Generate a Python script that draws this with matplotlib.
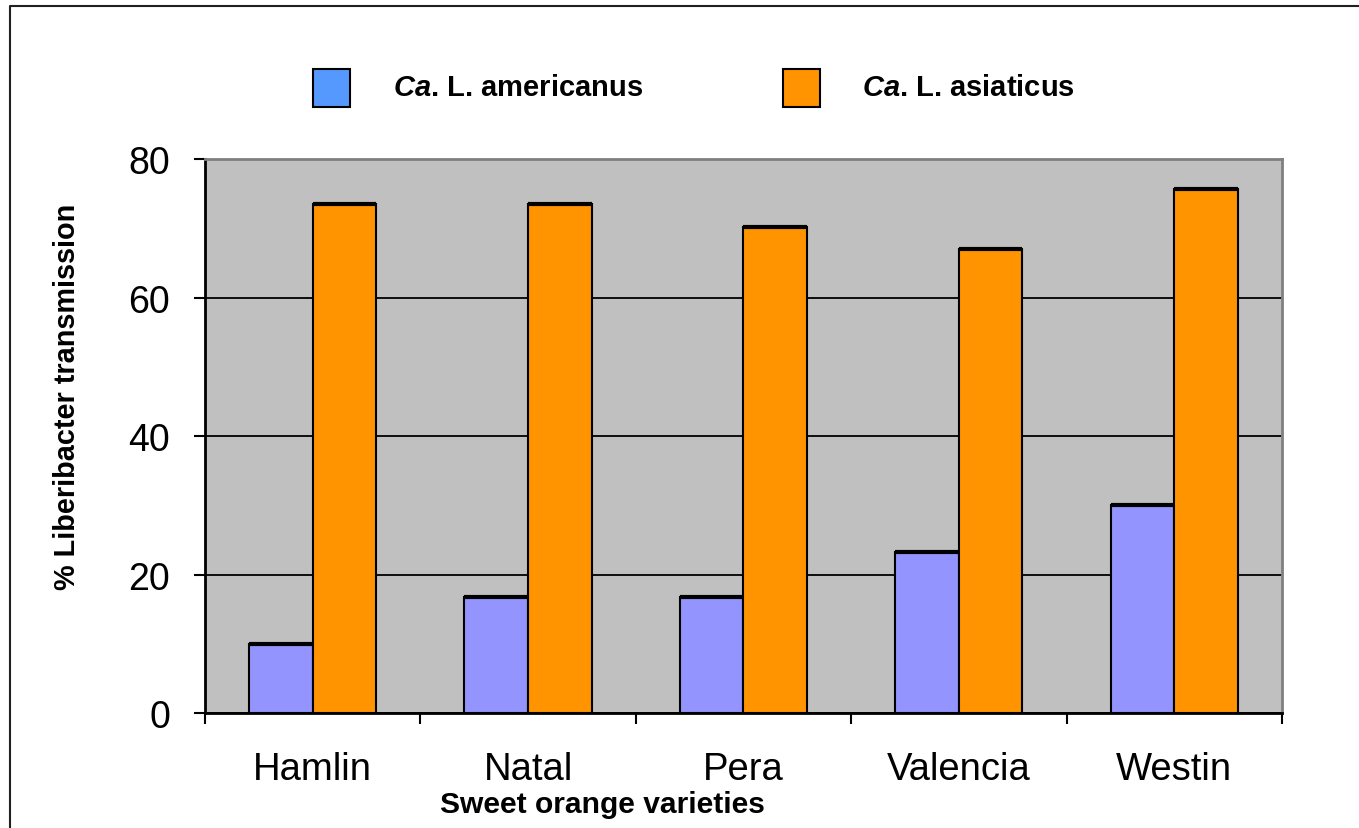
import numpy as np
import matplotlib
matplotlib.use("Agg")
from matplotlib import pyplot as plt
from matplotlib.patches import Rectangle
from matplotlib.lines import Line2D

varieties = ["Hamlin", "Natal", "Pera", "Valencia", "Westin"]
americanus = [10.0, 16.7, 16.7, 23.3, 30.0]
asiaticus = [73.5, 73.5, 70.2, 67.0, 75.7]
yticks = [0, 20, 40, 60, 80]

BAR_AM = "#9494FF"
BAR_AS = "#FF9400"
KEY_AM = "#5599FF"

plt.rcParams['font.family'] = ['Liberation Sans', 'DejaVu Sans']
plt.rcParams['mathtext.fontset'] = 'custom'
plt.rcParams['mathtext.bfit'] = 'Liberation Sans:italic:bold'
plt.rcParams['mathtext.rm'] = 'Liberation Sans:bold'

fig = plt.figure(figsize=(13.59, 8.29), dpi=100)
ax = fig.add_axes([0.1508, 0.1387, 0.7925, 0.6683])
ax.set_facecolor("#C0C0C0")

x = np.arange(len(varieties))
w = 0.295
ax.bar(x - w / 2, americanus, w, color=BAR_AM, edgecolor="black", linewidth=1.5, zorder=3)
ax.bar(x + w / 2, asiaticus, w, color=BAR_AS, edgecolor="black", linewidth=1.5, zorder=3)
# heavier line along the bar tops
ax.hlines(americanus, x - w, x, colors="black", linewidth=3, zorder=4)
ax.hlines(asiaticus, x, x + w, colors="black", linewidth=3, zorder=4)

ax.set_xlim(-0.5, len(varieties) - 0.5)
ax.set_ylim(0, 80)
ax.set_yticks(yticks)
ax.yaxis.grid(True, color="black", linewidth=1.3, zorder=0)
ax.set_axisbelow(True)

ax.set_xticks(x)
ax.set_xticklabels(varieties, fontsize=27.5)
ax.tick_params(axis="x", which="major", length=0, pad=27)
ax.set_xticks(np.arange(len(varieties) + 1) - 0.5, minor=True)
ax.tick_params(axis="x", which="minor", length=8, width=1.5, direction="out")
ax.tick_params(axis="y", length=8, width=1.5, pad=17, labelsize=27)

for side in ["left", "bottom"]:
    ax.spines[side].set_color("black")
    ax.spines[side].set_linewidth(2)
for side in ["top", "right"]:
    ax.spines[side].set_color("#808080")
    ax.spines[side].set_linewidth(2)

fig.text(67 / 1359, 1 - 397 / 829, "% Liberibacter transmission", rotation=90,
         ha="center", va="center", fontsize=20.8, fontweight="bold")
fig.text(602 / 1359, 1 - 805 / 829, "Sweet orange varieties",
         ha="center", va="center", fontsize=21.6, fontweight="bold")

# legend keys
fig.patches.append(Rectangle((313 / 1359, 1 - 108 / 829), 37 / 1359, 38 / 829,
                             transform=fig.transFigure, facecolor=KEY_AM,
                             edgecolor="black", linewidth=1.5))
fig.patches.append(Rectangle((783 / 1359, 1 - 108 / 829), 37 / 1359, 38 / 829,
                             transform=fig.transFigure, facecolor=BAR_AS,
                             edgecolor="black", linewidth=1.5))
fig.text(393 / 1359, 1 - 88 / 829, r"$\mathbfit{Ca}$. L. americanus",
         ha="left", va="center", fontsize=21, fontweight="bold")
fig.text(862 / 1359, 1 - 88 / 829, r"$\mathbfit{Ca}$. L. asiaticus",
         ha="left", va="center", fontsize=21, fontweight="bold")

# outer frame
fig.lines.append(Line2D([10 / 1359, 10 / 1359, 1.2], [-0.2, 1 - 7 / 829, 1 - 7 / 829],
                        transform=fig.transFigure, color="#202020", linewidth=1.5))

plt.savefig("out.png", dpi=100)
